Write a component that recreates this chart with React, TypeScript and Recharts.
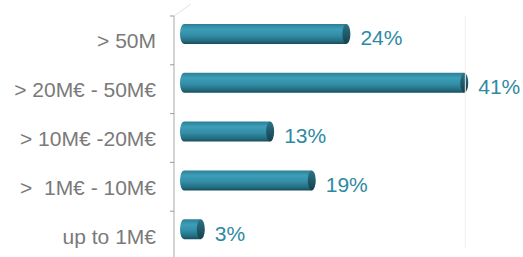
import React from 'react';
import { BarChart, Bar, XAxis, YAxis, LabelList, ReferenceLine } from 'recharts';

// revenue bands, top to bottom
const categories = ['> 50M', '> 20M€ - 50M€', '> 10M€ -20M€', '>  1M€ - 10M€', 'up to 1M€'];
const shares = [24, 41, 13, 19, 3];
const shareLabels = ['24%', '41%', '13%', '19%', '3%'];

const data = categories.map((name, i) => ({ name, value: shares[i], label: shareLabels[i] }));

// small 3D depth shift like the original office chart
const DX = 6;
const DY = -6;

const CylinderBar = (props: any) => {
  const { x, y, width, height } = props;
  const bx = x + DX;
  const by = y + DY;
  const r = height / 2;
  const w = Math.max(width, 0);
  return (
    <g>
      <path
        d={`M${bx + w},${by} L${bx + r * 0.4},${by} A${r * 0.4},${r} 0 0 0 ${bx + r * 0.4},${by + height} L${bx + w},${by + height} Z`}
        fill="url(#barGrad)"
      />
      <ellipse cx={bx + w} cy={by + r} rx={4} ry={r} fill="url(#capGrad)" />
    </g>
  );
};

const CategoryTick = (props: any) => {
  const { x, y, payload, index } = props;
  const half = payload?.offset || 24.4;
  const axisX = x + 18;
  const top = y - half;
  return (
    <g>
      <text
        x={x}
        y={y}
        dy="0.38em"
        textAnchor="end"
        fill="#7a7a7a"
        fontSize={21}
        fontFamily="Liberation Sans, Arial, sans-serif"
        style={{ whiteSpace: 'pre' }}
      >
        {payload.value}
      </text>
      <line x1={axisX - 4} y1={top} x2={axisX} y2={top} stroke="#9a9a9a" strokeWidth={1} />
      {index === 0 && (
        <line x1={axisX} y1={top} x2={axisX + 17} y2={top - 12} stroke="#e2e2e2" strokeWidth={1} />
      )}
    </g>
  );
};

const ValueLabel = (props: any) => {
  const { x, y, width, height, value } = props;
  return (
    <text
      x={x + width + 20}
      y={y + height / 2 - 2}
      dy="0.35em"
      fill="#2e8aa2"
      fontSize={21}
      fontFamily="Liberation Sans, Arial, sans-serif"
    >
      {value}
    </text>
  );
};

const BackLine = (props: any) => {
  const { x1, y1, x2, y2 } = props;
  if (x1 == null) return null;
  return <line x1={x1 + 14} y1={y1 - 12} x2={x2 + 14} y2={y2} stroke="#eeeeee" strokeWidth={1} />;
};

export default function App() {
  return (
    <div style={{ position: 'absolute', left: 0, top: 0, width: 523, height: 257, background: '#fff', overflow: 'hidden' }}>
      <BarChart
        width={523}
        height={260}
        data={data}
        layout="vertical"
        margin={{ top: 16, right: 37, bottom: 0, left: 0 }}
        barSize={20}
      >
        <defs>
          <linearGradient id="barGrad" x1="0" y1="0" x2="0" y2="1">
            <stop offset="0%" stopColor="#2a7f95" />
            <stop offset="25%" stopColor="#3d9db7" />
            <stop offset="55%" stopColor="#348fa8" />
            <stop offset="85%" stopColor="#236c80" />
            <stop offset="100%" stopColor="#184c5a" />
          </linearGradient>
          <linearGradient id="capGrad" x1="0" y1="0" x2="0" y2="1">
            <stop offset="0%" stopColor="#2a7488" />
            <stop offset="100%" stopColor="#173f4b" />
          </linearGradient>
        </defs>
        <XAxis type="number" domain={[0, 45]} hide />
        <YAxis
          type="category"
          dataKey="name"
          width={174}
          tickLine={false}
          tickSize={4}
          tickMargin={14}
          axisLine={{ stroke: '#a8a8a8' }}
          tick={<CategoryTick />}
          interval={0}
        />
        <ReferenceLine x={40} stroke="#eeeeee" shape={<BackLine />} />
        <Bar dataKey="value" shape={<CylinderBar />} isAnimationActive={false}>
          <LabelList dataKey="label" content={<ValueLabel />} />
        </Bar>
      </BarChart>
    </div>
  );
}
